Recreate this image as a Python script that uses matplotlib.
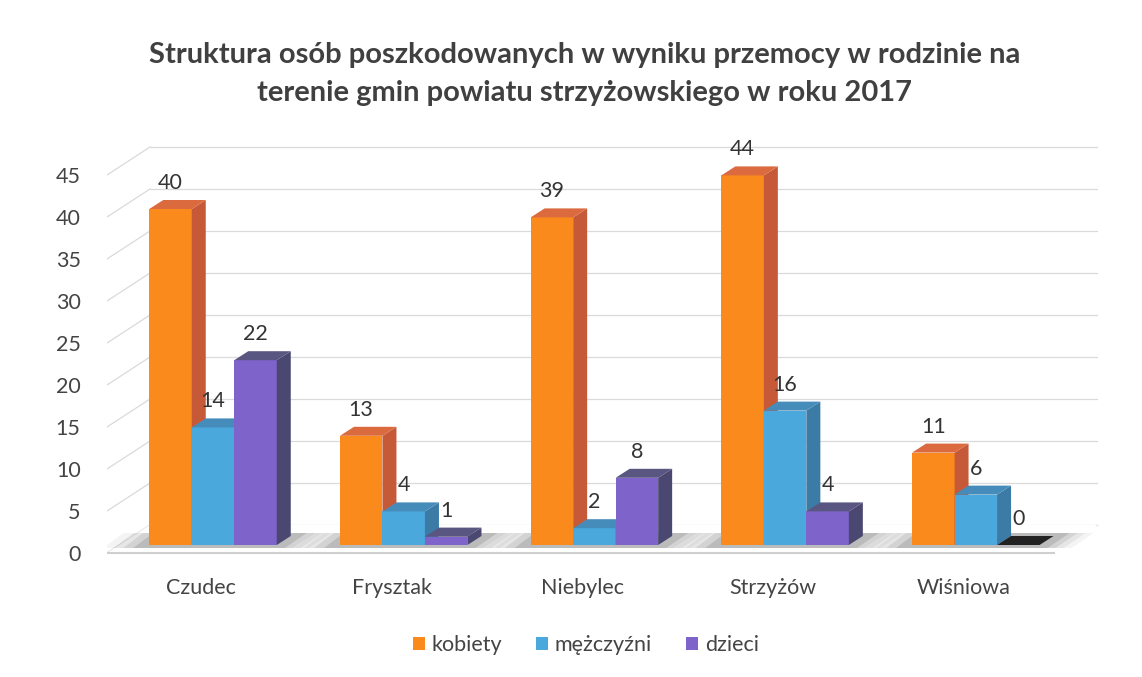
import matplotlib
matplotlib.use("Agg")
import matplotlib.pyplot as plt
from matplotlib.patches import Polygon, Patch

gminy = ["Czudec", "Frysztak", "Niebylec", "Strzyżów", "Wiśniowa"]
kobiety = [40, 13, 39, 44, 11]
mezczyzni = [14, 4, 2, 16, 6]
dzieci = [22, 1, 8, 4, 0]
serie = ["kobiety", "mężczyźni", "dzieci"]
yticks = [0, 5, 10, 15, 20, 25, 30, 35, 40, 45]
title = ("Struktura osób poszkodowanych w wyniku przemocy w rodzinie na\n"
         "terenie gmin powiatu strzyżowskiego w roku 2017")

# front / side / top colours per series
kolory = [("#FB8A1C", "#C65A38", "#DB6B3E"),
          ("#4AA8DC", "#3B7BA6", "#468CBA"),
          ("#7E63CA", "#4A4770", "#5A5682")]

plt.rcParams["font.family"] = ["Lato", "DejaVu Sans"]

W, H = 1142, 677
fig = plt.figure(figsize=(W / 100, H / 100), dpi=100)
ax = fig.add_axes([107 / W, 0, (W - 107) / W, 1])

# pixel -> data unit factors
PX = 1 / 190.7
PY = 1 / 8.4
ax.set_xlim(-106 * PX, (W - 213) * PX)
ax.set_ylim((545 - H) * PY, 545 * PY)

bw = 42.5 * PX
ddx, ddy = 14 * PX, 9 * PY          # bar depth
fdx, fdy = -12 * PX, -8 * PY        # front plane offset
bdx, bdy = 31 * PX, 20 * PY         # back wall offset
x_left = -106 * PX
x_right = (1054 - 213) * PX

grid = "#DADADA"
# back wall gridlines and left wall lines
for v in yticks:
    ax.plot([x_left + bdx - fdx, x_right + bdx - fdx], [v + bdy, v + bdy],
            color=grid, lw=0.9, zorder=1)
    ax.plot([x_left, x_left + bdx - fdx], [v + fdy, v + bdy],
            color=grid, lw=0.9, zorder=1)

# floor
ax.add_patch(Polygon([(x_left, fdy), (x_right, fdy),
                      (x_right + bdx - fdx, bdy), (x_left + bdx - fdx, bdy)],
                     closed=True, facecolor="white", edgecolor="none",
                     zorder=1))
ax.plot([x_left, x_right], [fdy, fdy], color="#CFCFCF", lw=1.5, zorder=1)

# soft shadows under groups
for i in range(len(gminy)):
    for k, a in enumerate([0.05, 0.07, 0.1, 0.15]):
        ext = (40 - 10 * k) * PX
        x0 = i - 1.5 * bw - ext
        x1 = i + 1.5 * bw + ext * 0.8
        ax.add_patch(Polygon([(x0 - 6 * PX, -3 * PY), (x1, -3 * PY),
                              (x1 + ddx + 8 * PX, ddy + 3 * PY),
                              (x0 + ddx, ddy + 3 * PY)],
                             closed=True, facecolor="#333333", alpha=a,
                             lw=0, zorder=2))

# 3D-looking bars
for i in range(len(gminy)):
    for j, vals in enumerate([kobiety, mezczyzni, dzieci]):
        v = vals[i]
        x0 = i + (j - 1.5) * bw
        x1 = x0 + bw
        front, side, top = kolory[j]
        z = 3 + j
        if v > 0:
            ax.bar(x0, v, width=bw, align="edge", color=front, lw=0, zorder=z)
            ax.add_patch(Polygon([(x1, 0), (x1 + ddx, ddy), (x1 + ddx, v + ddy), (x1, v)],
                                 closed=True, facecolor=side, lw=0, zorder=z))
            ax.add_patch(Polygon([(x0, v), (x0 + ddx, v + ddy), (x1 + ddx, v + ddy), (x1, v)],
                                 closed=True, facecolor=top, lw=0, zorder=z))
        else:
            ax.add_patch(Polygon([(x0, 0), (x0 + ddx, ddy), (x1 + ddx, ddy), (x1, 0)],
                                 closed=True, facecolor="#222222", lw=0, zorder=z))
        ax.text(x0 + bw / 2, v + 26 * PY, str(v), ha="center", va="center",
                fontsize=15.5, color="#333333", zorder=10)

# category labels
for i, g in enumerate(gminy):
    ax.text(i + fdx, -43 * PY, g, ha="center", va="center", fontsize=15.5,
            color="#444444")

ax.set_yticks([v + fdy for v in yticks])
ax.set_yticklabels([str(v) for v in yticks], fontsize=15.5, color="#444444")
ax.tick_params(axis="y", length=0, pad=19)
ax.set_xticks([])
for s in ax.spines.values():
    s.set_visible(False)

fig.text(0.512, 1 - 74 / H, title, ha="center", va="center", fontsize=21,
         fontweight="bold", color="#404040", linespacing=1.6)

handles = [Patch(facecolor=k[0]) for k in kolory]
fig.legend(handles, serie, loc="center", bbox_to_anchor=(0.513, 1 - 645 / H),
           ncol=3, frameon=False, fontsize=15.5, handlelength=0.55,
           handleheight=0.55, handletextpad=0.3, columnspacing=1.6,
           labelcolor="#444444")

fig.savefig("out.png", dpi=100)
